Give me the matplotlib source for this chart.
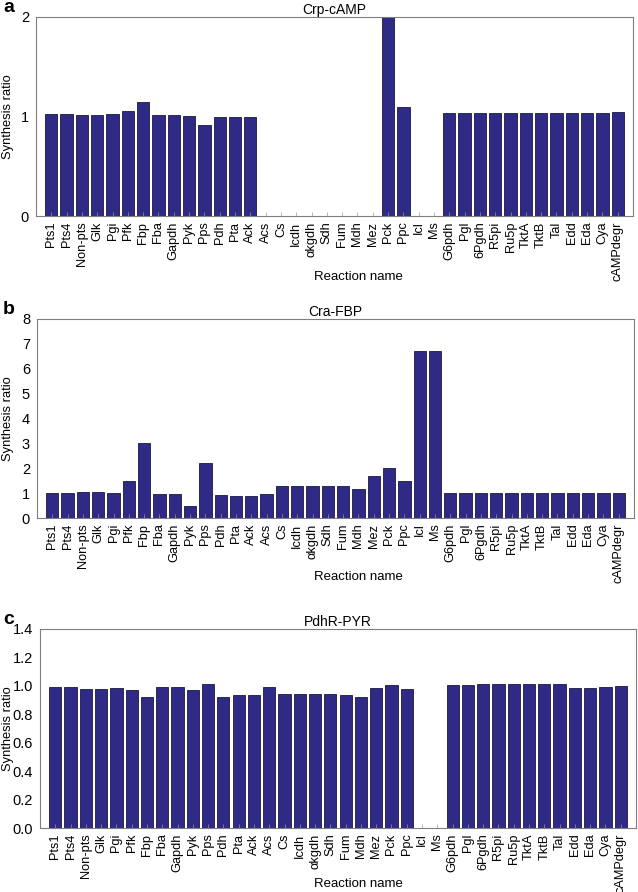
import numpy as np
import matplotlib
matplotlib.use('Agg')
import matplotlib.pyplot as plt

plt.rcParams['font.family'] = ['Liberation Sans', 'DejaVu Sans']

# reaction names, same order for all three panels
reactions = ['Pts1', 'Pts4', 'Non-pts', 'Glk', 'Pgi', 'Pfk', 'Fbp', 'Fba', 'Gapdh',
             'Pyk', 'Pps', 'Pdh', 'Pta', 'Ack', 'Acs', 'Cs', 'Icdh', 'αkgdh', 'Sdh',
             'Fum', 'Mdh', 'Mez', 'Pck', 'Ppc', 'Icl', 'Ms', 'G6pdh', 'Pgl', '6Pgdh',
             'R5pi', 'Ru5p', 'TktA', 'TktB', 'Tal', 'Edd', 'Eda', 'Cya', 'cAMPdegr']

# a: Crp-cAMP
crp_camp = [1.03, 1.03, 1.02, 1.02, 1.025, 1.055, 1.145, 1.02, 1.02,
            1.01, 0.91, 0.99, 0.995, 0.995, 0, 0, 0, 0, 0,
            0, 0, 0, 2.05, 1.10, 0, 0, 1.04, 1.04, 1.04,
            1.04, 1.04, 1.04, 1.035, 1.04, 1.04, 1.04, 1.035, 1.045]

# b: Cra-FBP
cra_fbp = [1.0, 1.0, 1.04, 1.04, 1.0, 1.5, 3.0, 0.97, 0.97,
           0.5, 2.2, 0.92, 0.88, 0.88, 0.98, 1.3, 1.3, 1.3, 1.28,
           1.28, 1.18, 1.67, 2.0, 1.47, 6.7, 6.7, 1.0, 1.0, 1.0,
           1.0, 1.0, 1.0, 0.99, 1.0, 1.0, 1.0, 1.0, 1.0]

# c: PdhR-PYR
pdhr_pyr = [0.995, 0.995, 0.98, 0.98, 0.985, 0.97, 0.92, 0.99, 0.99,
            0.968, 1.01, 0.92, 0.935, 0.935, 0.99, 0.944, 0.944, 0.944, 0.94,
            0.937, 0.925, 0.982, 1.003, 0.975, 0, 0, 1.005, 1.005, 1.01,
            1.01, 1.01, 1.01, 1.012, 1.01, 0.987, 0.987, 0.994, 0.998]

panels = [
    ('a', 'Crp-cAMP', crp_camp, (0, 2), [0, 1, 2], ['0', '1', '2']),
    ('b', 'Cra-FBP', cra_fbp, (0, 8), list(range(9)), [str(i) for i in range(9)]),
    ('c', 'PdhR-PYR', pdhr_pyr, (0, 1.4), list(np.arange(0, 1.41, 0.2)),
     ['%.1f' % v for v in np.arange(0, 1.41, 0.2)]),
]

# axes boxes in pixels: left, top, right, bottom ; y of the x label
boxes = [(36, 17, 633, 216, 277), (37, 319, 634, 518, 577), (40, 629, 636, 828, 884)]

W, H = 638, 892
fig = plt.figure(figsize=(W / 100, H / 100), dpi=100)

x = np.arange(1, len(reactions) + 1)
barcol = '#2e2a86'
spinecol = '#7f7f7f'

for (letter, title, vals, ylim, yt, ytl), (l, t, r, b, xl_y) in zip(panels, boxes):
    ax = fig.add_axes([l / W, 1 - b / H, (r - l) / W, (b - t) / H])
    ax.bar(x, vals, width=0.8, color=barcol, edgecolor='#1a1840', linewidth=0.6)
    ax.set_xlim(0, len(reactions) + 1)
    ax.set_ylim(*ylim)
    ax.set_xticks(x)
    ax.set_xticklabels(reactions, rotation=90, fontsize=9.2)
    ax.set_yticks(yt)
    ax.set_yticklabels(ytl, fontsize=10.5)
    ax.tick_params(axis='x', direction='in', length=3, width=0.5, color='#999999', pad=4)
    ax.tick_params(axis='y', direction='in', length=0, pad=5)
    for s in ax.spines.values():
        s.set_color(spinecol)
        s.set_linewidth(0.8)
    ax.set_title(title, fontsize=10, pad=2)
    fig.text(8 / W, 1 - (t + b) / 2 / H, 'Synthesis ratio', fontsize=9.3,
             rotation=90, ha='center', va='center')
    fig.text(358 / W, 1 - xl_y / H, 'Reaction name', fontsize=9.5, ha='center', va='center')
    fig.text(3 / W, 1 - (t - 9) / H, letter, fontsize=14, fontweight='bold', va='center', ha='left')

fig.savefig('out.png', dpi=100)
